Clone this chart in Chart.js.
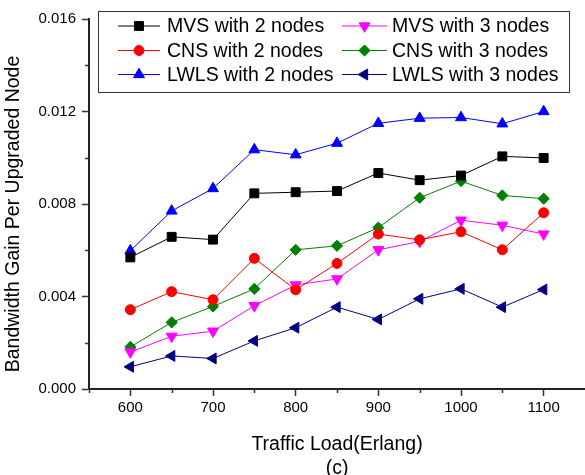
<!DOCTYPE html>
<html>
<head>
<meta charset="utf-8">
<script src="https://cdn.jsdelivr.net/npm/chart.js@4.4.1/dist/chart.umd.min.js"></script>
<style>
  html, body { margin: 0; padding: 0; background: #fff; }
  canvas { display: block; }
</style>
</head>
<body>
<canvas id="graph" width="585" height="475"></canvas>
<script>
// traffic load (Erlang) on the x axis
const loads = [600, 650, 700, 750, 800, 850, 900, 950, 1000, 1050, 1100];

// bandwidth gain per upgraded node
const mvs2  = [0.00569, 0.00658, 0.00646, 0.00846, 0.00851, 0.00856, 0.00934, 0.00903, 0.00923, 0.01006, 0.00999];
const cns2  = [0.00343, 0.00421, 0.00386, 0.00565, 0.00429, 0.00543, 0.00670, 0.00645, 0.00680, 0.00602, 0.00762];
const lwls2 = [0.00598, 0.00770, 0.00867, 0.01035, 0.01013, 0.01063, 0.01149, 0.01171, 0.01174, 0.01147, 0.01200];
const mvs3  = [0.00160, 0.00228, 0.00250, 0.00360, 0.00450, 0.00476, 0.00602, 0.00638, 0.00730, 0.00708, 0.00670];
const cns3  = [0.00182, 0.00288, 0.00357, 0.00433, 0.00602, 0.00619, 0.00698, 0.00827, 0.00899, 0.00837, 0.00823];
const lwls3 = [0.00096, 0.00143, 0.00132, 0.00208, 0.00265, 0.00354, 0.00301, 0.00390, 0.00433, 0.00354, 0.00430];

const seriesNames = ["MVS with 2 nodes", "CNS with 2 nodes", "LWLS with 2 nodes",
                     "MVS with 3 nodes", "CNS with 3 nodes", "LWLS with 3 nodes"];
const yTitle = "Bandwidth Gain Per Upgraded Node";
const xTitle = ["Traffic Load(Erlang)", "(c)"];

const FONT = "'Liberation Sans', Arial, sans-serif";

function serie(label, values, color, style, rot, r) {
  return {
    label: label,
    data: loads.map((x, i) => ({ x: x, y: values[i] })),
    borderColor: color,
    backgroundColor: color,
    borderWidth: 1,
    pointStyle: style,
    pointRotation: rot,
    pointRadius: r,
    pointHoverRadius: r,
    pointBorderWidth: 1,
    tension: 0
  };
}

const datasets = [
  serie(seriesNames[0], mvs2,  "#000000", "rect",     0,   6.3),
  serie(seriesNames[1], cns2,  "#ff0000", "circle",   0,   5),
  serie(seriesNames[2], lwls2, "#0000ff", "triangle", 0,   6.3),
  serie(seriesNames[3], mvs3,  "#ff00ff", "triangle", 180, 6.3),
  serie(seriesNames[4], cns3,  "#008000", "rectRot",  0,   5.6),
  serie(seriesNames[5], lwls3, "#000080", "triangle", 270, 6.3)
];

// legend drawn as a framed box like the original figure
const boxLegend = {
  id: "boxLegend",
  afterDraw(chart) {
    const ctx = chart.ctx;
    ctx.save();
    ctx.strokeStyle = "#333";
    ctx.lineWidth = 1;
    ctx.strokeRect(98.5, 11.5, 471, 81);
    const lineX = [[118, 160], [342, 387]];
    const textX = [167, 392];
    const rowY = [26, 50.5, 74.5];
    chart.data.datasets.forEach((ds, i) => {
      const col = i < 3 ? 0 : 1;
      const y = rowY[i % 3];
      ctx.strokeStyle = ds.borderColor;
      ctx.fillStyle = ds.backgroundColor;
      ctx.lineWidth = 1;
      ctx.beginPath();
      ctx.moveTo(lineX[col][0], y);
      ctx.lineTo(lineX[col][1], y);
      ctx.stroke();
      Chart.helpers.drawPoint(ctx, {
        pointStyle: ds.pointStyle,
        rotation: ds.pointRotation,
        radius: ds.pointRadius,
        borderWidth: 1
      }, (lineX[col][0] + lineX[col][1]) / 2, y);
      ctx.fillStyle = "#000";
      ctx.font = "19.5px " + FONT;
      ctx.textBaseline = "middle";
      ctx.textAlign = "left";
      ctx.fillText(ds.label, textX[col], y + 1);
    });
    ctx.restore();
  }
};

// y title sits a bit lower than the axis middle in the original
const sideTitle = {
  id: "sideTitle",
  afterDraw(chart) {
    const ctx = chart.ctx;
    ctx.save();
    ctx.translate(14, 214);
    ctx.rotate(-Math.PI / 2);
    ctx.fillStyle = "#000";
    ctx.font = "19.5px " + FONT;
    ctx.textAlign = "center";
    ctx.textBaseline = "middle";
    ctx.fillText(yTitle, 0, 0);
    ctx.restore();
  }
};

// short minor ticks between the labelled ones
const minorTicks = {
  id: "minorTicks",
  afterDraw(chart) {
    const ctx = chart.ctx;
    const xs = chart.scales.x, ys = chart.scales.y;
    ctx.save();
    ctx.strokeStyle = "#333";
    ctx.lineWidth = 1.5;
    ctx.beginPath();
    xs.ticks.forEach(t => {
      if (t.value % 100 !== 0 && t.value < 1150) {
        const px = Math.round(xs.getPixelForValue(t.value)) + 0.5;
        ctx.moveTo(px, xs.top);
        ctx.lineTo(px, xs.top + 4);
      }
    });
    ys.ticks.forEach(t => {
      if (Math.round(t.value * 1000) % 4 !== 0) {
        const py = Math.round(ys.getPixelForValue(t.value)) + 0.5;
        ctx.moveTo(ys.right, py);
        ctx.lineTo(ys.right - 4, py);
      }
    });
    ctx.stroke();
    ctx.restore();
  }
};

new Chart(document.getElementById("graph"), {
  type: "line",
  data: { datasets: datasets },
  plugins: [boxLegend, sideTitle, minorTicks],
  options: {
    responsive: false,
    animation: false,
    devicePixelRatio: 1,
    layout: { autoPadding: false, padding: { top: 19, left: 0, right: 0, bottom: 0 } },
    plugins: {
      legend: { display: false },
      tooltip: { enabled: false }
    },
    scales: {
      x: {
        type: "linear",
        position: "bottom",
        min: 550,
        max: 1150,
        afterFit(scale) {
          scale.height = 86;
          scale.paddingLeft = 0;
          scale.paddingRight = 0;
        },
        border: { display: true, color: "#222", width: 2 },
        grid: {
          drawOnChartArea: false,
          tickLength: 7,
          tickWidth: 1.5,
          tickColor: c => (c.tick && c.tick.value % 100 === 0) ? "#333" : "rgba(0,0,0,0)"
        },
        ticks: {
          stepSize: 50,
          autoSkip: false,
          maxRotation: 0,
          padding: 3,
          color: "#000",
          font: { family: FONT, size: 15 },
          callback: v => (v % 100 === 0 ? String(v) : "")
        },
        title: {
          display: true,
          text: xTitle,
          color: "#000",
          font: { family: FONT, size: 19.5, lineHeight: 1.2 },
          padding: { top: 0, bottom: -5 }
        }
      },
      y: {
        type: "linear",
        min: 0,
        max: 0.016,
        afterFit(scale) { scale.width = 89; },
        border: { display: true, color: "#222", width: 2 },
        grid: {
          drawOnChartArea: false,
          tickLength: 7,
          tickWidth: 1.5,
          tickColor: c => (c.tick && Math.round(c.tick.value * 1000) % 4 === 0) ? "#333" : "rgba(0,0,0,0)"
        },
        ticks: {
          stepSize: 0.002,
          autoSkip: false,
          padding: 6,
          color: "#000",
          font: { family: FONT, size: 15 },
          callback: v => (Math.round(v * 1000) % 4 === 0 ? v.toFixed(3) : "")
        },
        title: { display: false }
      }
    }
  }
});
</script>
</body>
</html>
